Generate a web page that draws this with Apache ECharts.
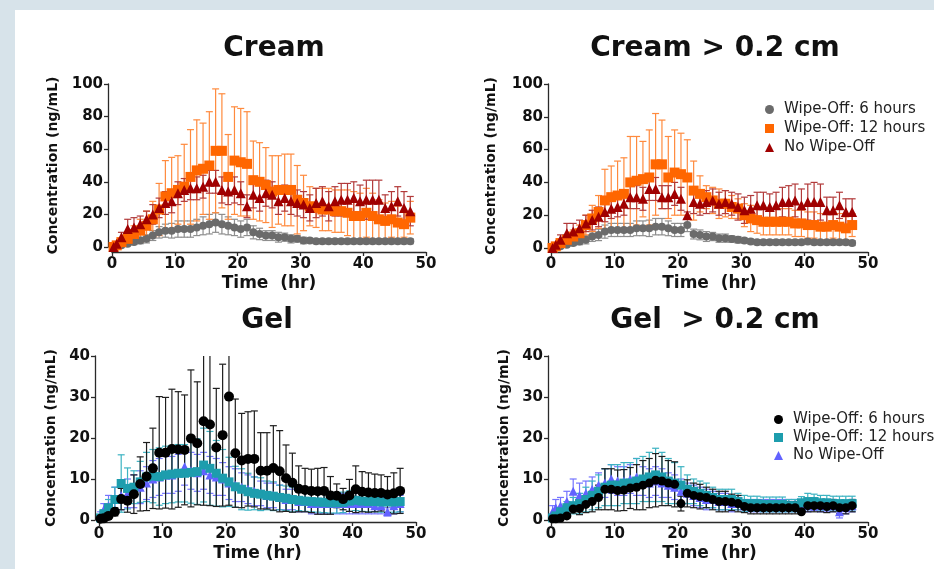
<!DOCTYPE html>
<html><head><meta charset="utf-8">
<script src="https://cdn.jsdelivr.net/npm/echarts@6/dist/echarts.min.js"></script>
<style>
html,body{margin:0;padding:0;background:#d7e3ea;overflow:hidden;}
#panel{position:absolute;left:15px;top:10px;width:919px;height:559px;background:#ffffff;}
#chart{position:absolute;left:0;top:0;width:934px;height:569px;}
</style></head>
<body><div id="panel"></div><div id="chart"></div>
<script>
// ---------- data ----------
const T = [0.25,0.75,1.5,2.5,3.5,4.5,5.5,6.5,7.5,8.5,9.5,10.5,11.5,12.5,13.5,14.5,15.5,16.5,17.5,18.5,19.5,20.5,21.5,22.5,23.5,24.5,25.5,26.5,27.5,28.5,29.5,30.5,31.5,32.5,33.5,34.5,35.5,36.5,37.5,38.5,39.5,40.5,41.5,42.5,43.5,44.5,45.5,46.5,47.5];
const xTicks = [0,10,20,30,40,50];
const creamTicks = [0,20,40,60,80,100];
const gelTicks = [0,10,20,30,40];
const seriesNames = ['Wipe-Off: 6 hours','Wipe-Off: 12 hours','No Wipe-Off'];
const titles = ['Cream','Cream > 0.2 cm','Gel','Gel  > 0.2 cm'];
const xNames = ['Time  (hr)','Time  (hr)','Time (hr)','Time  (hr)'];
const yName = 'Concentration (ng/mL)';

// Cream
const creamW6   = [0,0.5,1,2,3,4,5,7,9,10, 10,11,11,11,12,13,14,15,14,13, 12,11,12,9,8,7,7,6,6,5, 5,4,4,3.5,3.5,3.5,3.5,3.5,3.5,3.5, 3.5,3.5,3.5,3.5,3.5,3.5,3.5,3.5,3.5];
const creamW6Sd = [0,0.3,0.5,1,1.5,2,2.5,3,3.5,4, 4.5,5,5,5,5,5.5,6,6,6,5.5, 5,5,5,4,3.5,3,3,3,2.5,2.5, 2,2,1.5,1.5,1.5,1.5,1.5,1.5,1.5,1.5, 1.5,1.5,1.5,1.5,1.5,1.5,1.5,1.5,1.5];
const creamW12  = [0,1,3,5,8,10,13,17,23,31, 33,35,37,43,47,48,50,59,59,43, 53,52,51,41,40,38,34,35,35,35, 29,27,25,24,23,23,22,22,21,19, 19,21,19,17,16,17,15,14,18];
const creamW12Sd= [0,1,2,4,5,7,9,11,16,22, 22,21,26,29,31,28,33,38,35,26, 33,33,32,24,24,23,22,21,22,22, 21,17,12,12,13,13,13,13,14,15, 14,15,14,12,11,11,10,8,10];
const creamNo   = [0,2,6,11,12,14,17,20,24,27, 28,33,35,36,36,37,40,40,35,34, 35,33,25,32,30,33,32,28,30,28, 27,26,24,27,28,25,28,29,29,30, 28,29,29,29,24,25,28,24,22];
const creamNoSd = [0,1,3,6,6,5,5,6,6,7, 7,7,7,7,7,7,7,7,8,8, 8,7,7,8,8,8,8,8,8,8, 8,8,8,9,9,9,9,10,10,10, 10,12,12,12,8,9,9,10,9];

// Cream > 0.2 cm
const cream2W6   = [0,0.5,1,2,3,4,5,7,8,10, 11,11,11,11,12,12,12,13,13,12, 11,11,14,8.5,8,7,7,6,6,5.5, 5,4.5,4,3.5,3.5,3.5,3.5,3.5,3.5,3.5, 3.5,4,3.5,3.5,3.5,3.5,3.5,3.5,3];
const cream2W6Sd = [0,0.3,0.5,1,1.5,2,2.5,3,3.5,4, 4,4,4,4,4.5,4.5,5,5,5,4.5, 4,4,4,3,3,3,2.5,2.5,2.5,2, 2,1.5,1.5,1.5,1.5,1.5,1.5,1.5,1.5,1.5, 1.5,1.5,1.5,1.5,1.5,1.5,1.5,1.5,1.5];
const cream2W12  = [0,1,3,5,7,9,14,18,22,29, 31,32,33,40,41,42,43,51,51,43, 46,45,43,35,33,31,29,27,27,25, 24,20,18,17,16,16,16,16,16,15, 15,14,14,13,13,14,13,12,14];
const cream2W12Sd= [0,1,2,3,4,5,6,8,10,19, 19,21,22,28,27,23,29,31,27,25, 26,25,23,18,11,7,8,9,8,7, 6,7,8,8,8,8,8,8,8,8, 8,8,8,8,8,8,8,7,7];
const cream2No   = [0,2,5,9,10,12,15,17,19,22, 24,25,27,31,31,30,36,36,31,31, 33,30,20,28,27,28,29,27,28,27, 25,23,24,26,26,25,26,28,28,29, 26,28,28,28,23,23,26,22,22];
const cream2NoSd = [0,1,3,6,5,5,5,6,6,6, 6,6,7,7,7,7,7,7,7,7, 7,7,2,7,7,7,7,7,7,7, 8,8,8,8,8,8,8,9,10,10, 10,11,12,11,8,8,8,8,8];

// Gel
const gelW6   = [0.3,0.4,1,2,5.1,4.7,6.3,8.8,10.6,12.6, 16.4,16.4,17.3,17.2,17.1,19.9,18.7,24.1,23.3,17.7, 20.7,30.1,16.3,14.5,14.9,14.9,12,12,12.7,11.9, 10.2,9.1,7.6,7.3,7.1,7,7.1,6,5.9,5.1, 6,7.5,6.9,6.7,6.6,6.6,6.2,6.5,7.1];
const gelW6Sd = [0.2,0.5,0.5,1,2.6,2.8,4.7,6.6,8.3,9.8, 13.7,13.5,14.6,14.1,13.4,16.7,15,20.5,19.8,14.4, 17.3,26.5,13.2,11.5,11.5,11.7,9.3,9.3,10.3,9.9, 8.1,7.2,5.6,5.3,5.3,5.6,5.7,4.6,2.9,2.6, 3.9,5.7,4.9,4.8,4.6,4.4,4.4,5,5.5];
const gelW12  = [0.5,1.5,3,5,8.9,7.7,8,9.3,10.5,10.7, 10.6,11,11.2,11.4,11.4,11.6,11.8,13.4,12.6,11.4, 10.2,9.3,8.1,7.5,6.9,6.5,6.3,6,5.8,5.5, 5.3,5,4.8,4.6,4.5,4.4,4.3,4.2,4.2,4.3, 4.6,4.8,4.6,4.5,4.5,4.4,4.4,4.4,4.5];
const gelW12Sd= [0.3,1,2,3,7,5,4,5,6,6.5, 7,7,7,7,7,7.5,8,9,9,8, 7,6,5,5,4.5,4,4,3.5,3.5,3, 3,3,2.5,2.5,2.5,2.5,2.5,2.5,2.5,2.5, 2.5,2.5,2.5,2.5,2.5,2.5,2.5,2.5,2.5];
const gelNo   = [1,2.5,3.5,5,6,6.5,7,8,9,10, 10.5,11,11,11.5,13,12,11.5,12,11,10.5, 10,9,8.5,8,7.5,7,6.5,6,6,5.5, 5,5,4.5,4.5,4,4,4,4,4,4, 4,4,4,4,3.5,3.5,2,3.5,4];
const gelNoSd = [1,1.5,2.5,3,3.5,3.5,4,4,4,4.5, 4.5,4.5,4.5,4.5,4.5,4.5,4.5,4.5,4.5,4.5, 4,4,4,3.5,3.5,3.5,3,3,3,3, 2.5,2.5,2.5,2.5,2.5,2.5,2.5,2.5,2.5,2.5, 2.5,2.5,2.5,2.5,2,2,1,2,2];

// Gel > 0.2 cm
const gel2W6   = [0.3,0.3,0.5,1,2.7,2.8,3.8,4.5,5.5,7.5, 7.5,7.2,7.3,7.8,8,8.5,9,9.7,9.5,9, 8.7,4,6.5,6,5.7,5.5,5,4.5,4.5,4.3, 4,3.3,3,3,3,3,3,3,3,3, 2,3.5,3.5,3.5,3.3,3.5,3,3,3.5];
const gel2W6Sd = [0.2,0.2,0.3,0.5,1,1.5,2,2.5,3,5, 5,5,5,5,5.5,6,6,6.5,6,5.5, 5.5,1.8,3.3,3,3,2.5,2.5,2.5,2.5,2, 2,1.5,1.5,1.5,1.5,1.5,1.5,1.5,1.5,1.5, 0.5,1.5,1.5,1.5,1.5,1.5,1.5,1.5,1.5];
const gel2W12  = [0.5,1,2,3,3.5,4,5,6,7,8, 8.5,8.5,9,9,9.5,10,10.5,11,10.5,9.5, 9,8.5,7.5,7,6.5,6,5.5,5,5,5, 4.5,4,4,4,3.8,3.8,3.8,3.8,3.5,3.5, 4.2,4.5,4.5,4.2,4.2,4,4,4,4];
const gel2W12Sd= [0.3,0.5,1,1.5,2,2.5,3,3.5,4,4.5, 5,5,5,5,5.5,5.5,6,6.5,6,5.5, 5,4.5,3.5,3,3,3,2.5,2.5,2.5,2.5, 2,2,1.8,1.8,1.8,1.8,1.8,1.8,1.5,1.5, 1.5,2,1.8,1.8,1.8,1.8,1.8,1.8,1.8];
const gel2No   = [2,3,3.5,4.5,7,6,6.5,7.5,8.5,9, 10,9.5,9.5,10,10.5,9.5,9,9.5,9,8.5, 8,7,6.5,6,5.5,5,5,4.5,4.5,4, 4,3.5,3.5,3.5,3.5,3.5,3.5,3.5,3.5,3.5, 3.5,3.5,3.8,3.5,3.5,3.5,2,3,3.5];
const gel2NoSd = [1.5,2,2,2.5,3,3,3,3,3,3.5, 3.5,3.5,3.5,3.5,4.5,3.5,3.5,3.5,3.5,3, 3,3,2.5,2.5,2.5,2.5,2,2,2,2, 1.5,1.5,1.5,1.5,1.5,1.5,1.5,1.5,1.5,1.5, 1.5,1.5,1.5,1.5,1.5,1.5,1.5,1.5,1.5];

// ---------- styles ----------
const GRAY = '#6b6b6b', GRAYBAR = '#8e8e8e';
const ORANGE = '#ff6600', ORANGEBAR = '#ff8a3d';
const DRED = '#a00000', DREDBAR = '#b23a3a';
const BLACK = '#000000', BLACKBAR = '#1e1e1e';
const TEAL = '#1d9dad', TEALBAR = '#3cb3c2';
const BLUE = '#6262ff', BLUEBAR = '#7474ff';
const BOLD = 'DejaVu Sans';

const panels = [
  {grid:{left:112, top:84, width:314, height:163}, ticks:creamTicks, xOff:5, yOff:4, yGap:47.5,
   sets:[
     {n:0, m:creamW6, sd:creamW6Sd, c:GRAY, b:GRAYBAR, sym:'circle', s:8},
     {n:1, m:creamW12, sd:creamW12Sd, c:ORANGE, b:ORANGEBAR, sym:'rect', s:10},
     {n:2, m:creamNo, sd:creamNoSd, c:DRED, b:DREDBAR, sym:'triangle', s:10}]},
  {grid:{left:551, top:84, width:317, height:164}, ticks:creamTicks, xOff:4, yOff:3, yGap:49.5,
   sets:[
     {n:0, m:cream2W6, sd:cream2W6Sd, c:GRAY, b:GRAYBAR, sym:'circle', s:8},
     {n:1, m:cream2W12, sd:cream2W12Sd, c:ORANGE, b:ORANGEBAR, sym:'rect', s:10},
     {n:2, m:cream2No, sd:cream2NoSd, c:DRED, b:DREDBAR, sym:'triangle', s:10}]},
  {grid:{left:99, top:356, width:317, height:164}, ticks:gelTicks, xOff:2, yOff:4, yGap:36.5,
   sets:[
     {n:2, m:gelNo, sd:gelNoSd, c:BLUE, b:BLUEBAR, sym:'triangle', s:9},
     {n:1, m:gelW12, sd:gelW12Sd, c:TEAL, b:TEALBAR, sym:'rect', s:9},
     {n:0, m:gelW6, sd:gelW6Sd, c:BLACK, b:BLACKBAR, sym:'circle', s:10}]},
  {grid:{left:551, top:356, width:317, height:164}, ticks:gelTicks, xOff:2, yOff:3, yGap:36.5,
   sets:[
     {n:2, m:gel2No, sd:gel2NoSd, c:BLUE, b:BLUEBAR, sym:'triangle', s:9},
     {n:1, m:gel2W12, sd:gel2W12Sd, c:TEAL, b:TEALBAR, sym:'rect', s:9},
     {n:0, m:gel2W6, sd:gel2W6Sd, c:BLACK, b:BLACKBAR, sym:'circle', s:9}]}
];
const titlePos = [[269,30],[710,30],[262,302],[710,302]];

const axisLineStyle = {color:'#2a2a2a', width:1.3};
const grids = [], xAxes = [], yAxes = [], series = [], titleArr = [];

panels.forEach((p, pi) => {
  const yMax = p.ticks[p.ticks.length-1];
  grids.push(Object.assign({outerBoundsMode:'none', containLabel:false}, p.grid));
  xAxes.push({gridIndex:pi, type:'value', min:xTicks[0], max:xTicks[xTicks.length-1], interval:xTicks[1]-xTicks[0],
    offset:p.xOff, splitLine:{show:false},
    axisLine:{show:true, onZero:false, lineStyle:axisLineStyle},
    axisTick:{show:true, length:4, lineStyle:axisLineStyle},
    axisLabel:{margin:5, color:'#111', fontFamily:BOLD, fontWeight:'bold', fontSize:15},
    name:xNames[pi], nameLocation:'middle', nameGap:23,
    nameTextStyle:{fontFamily:BOLD, fontWeight:'bold', fontSize:17, color:'#111', verticalAlign:'top'}});
  yAxes.push({gridIndex:pi, type:'value', min:p.ticks[0], max:yMax, interval:p.ticks[1]-p.ticks[0],
    offset:p.yOff, splitLine:{show:false},
    axisLine:{show:true, onZero:false, lineStyle:axisLineStyle},
    axisTick:{show:true, length:4, lineStyle:axisLineStyle},
    axisLabel:{margin:5, color:'#111', fontFamily:BOLD, fontWeight:'bold', fontSize:15},
    name:yName, nameLocation:'middle', nameGap:p.yGap,
    nameTextStyle:{fontFamily:BOLD, fontWeight:'bold', fontSize:14, color:'#111'}});
  titleArr.push({text:titles[pi], left:titlePos[pi][0], top:titlePos[pi][1], textAlign:'center',
    textStyle:{fontFamily:BOLD, fontWeight:'bold', fontSize:28, color:'#111'}});

  p.sets.forEach(st => {
    const barColor = st.b;
    series.push({
      type:'custom', name:'err'+pi+'_'+st.n, xAxisIndex:pi, yAxisIndex:pi, silent:true,
      data: T.map((t,i) => {
        const hi = st.m[i] + st.sd[i], lo = st.m[i] - st.sd[i];
        return [t, Math.max(0, lo), Math.min(yMax, hi), hi <= yMax ? 1 : 0, lo > 0 ? 1 : 0];
      }),
      encode:{x:0, y:[1,2]},
      renderItem: function(params, api){
        const x = api.value(0);
        const a = api.coord([x, api.value(1)]);
        const b = api.coord([x, api.value(2)]);
        const w = 3.5;
        const ls = {stroke:barColor, lineWidth:1.2};
        const ch = [{type:'line', shape:{x1:a[0], y1:a[1], x2:b[0], y2:b[1]}, style:ls}];
        if (api.value(3)) ch.push({type:'line', shape:{x1:b[0]-w, y1:b[1], x2:b[0]+w, y2:b[1]}, style:ls});
        if (api.value(4)) ch.push({type:'line', shape:{x1:a[0]-w, y1:a[1], x2:a[0]+w, y2:a[1]}, style:ls});
        return {type:'group', children:ch};
      }
    });
    series.push({
      type:'scatter', name:seriesNames[st.n], xAxisIndex:pi, yAxisIndex:pi, clip:false,
      symbol:st.sym, symbolSize:st.s, itemStyle:{color:st.c, opacity:1},
      data: T.map((t,i) => [t, st.m[i]])
    });
  });
});

const legendText = {fontFamily:'DejaVu Sans', fontSize:15, color:'#222', padding:[0,0,0,5]};
const legends = [
  {left:760, top:97, orient:'vertical', itemWidth:9, itemHeight:9, itemGap:4, selectedMode:false,
   textStyle:legendText,
   data:[{name:seriesNames[0], icon:'circle', itemStyle:{color:GRAY}},
         {name:seriesNames[1], icon:'rect', itemStyle:{color:ORANGE}},
         {name:seriesNames[2], icon:'triangle', itemStyle:{color:DRED}}]},
  {left:769, top:407, orient:'vertical', itemWidth:9, itemHeight:9, itemGap:3, selectedMode:false,
   textStyle:legendText,
   data:[{name:seriesNames[0], icon:'circle', itemStyle:{color:BLACK}},
         {name:seriesNames[1], icon:'rect', itemStyle:{color:TEAL}},
         {name:seriesNames[2], icon:'triangle', itemStyle:{color:BLUE}}]}
];

const chart = echarts.init(document.getElementById('chart'), null, {renderer:'canvas'});
chart.setOption({
  animation:false,
  backgroundColor:'transparent',
  title:titleArr,
  legend:legends,
  grid:grids, xAxis:xAxes, yAxis:yAxes, series:series
});
</script></body></html>
